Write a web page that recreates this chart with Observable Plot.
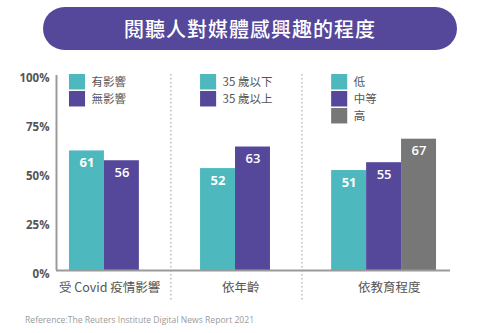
<!DOCTYPE html>
<html>
<head>
<meta charset="utf-8">
<script src="https://cdn.jsdelivr.net/npm/d3@7"></script>
<script src="https://cdn.jsdelivr.net/npm/@observablehq/plot@0.6"></script>
<style>
  html, body { margin: 0; padding: 0; background: #fff; }
  #wrap { position: relative; width: 500px; height: 333px; overflow: hidden; }
  #title {
    position: absolute; left: 43px; top: 7px; width: 414px; height: 43px;
    border-radius: 22px; background: #55489b; color: #fff;
    font-family: "Noto Sans CJK TC", sans-serif; font-size: 20px; font-weight: 500;
    display: flex; align-items: center; justify-content: center; letter-spacing: 1px;
  }
  #chart { position: absolute; left: 0; top: 57px; }
  #caption {
    position: absolute; left: 25px; top: 314px;
    font-family: "Open Sans", sans-serif; font-size: 8.6px; color: #9a9a9a;
  }
</style>
</head>
<body>
<div id="wrap">
  <div id="title">閱聽人對媒體感興趣的程度</div>
  <div id="chart"></div>
  <div id="caption">Reference:The Reuters Institute Digital News Report 2021</div>
</div>
<script>
// ---- data ----
const groupNames = ["受 Covid 疫情影響", "依年齡", "依教育程度"];
const covidLabels = ["有影響", "無影響"];
const covidValues = [61, 56];
const ageLabels = ["35 歲以下", "35 歲以上"];
const ageValues = [52, 63];
const eduLabels = ["低", "中等", "高"];
const eduValues = [51, 55, 67];
const yTicks = [0, 25, 50, 75, 100];

// ---- styles ----
const palette = ["#4db8bd", "#55489b", "#777777"];
const cjk = "'Noto Sans CJK TC', sans-serif";
const num = "'Open Sans', sans-serif";

// ---- layout (in bar-width units) ----
const GAP = 1.75;
const groupsData = [
  {name: groupNames[0], labels: covidLabels, values: covidValues},
  {name: groupNames[1], labels: ageLabels, values: ageValues},
  {name: groupNames[2], labels: eduLabels, values: eduValues}
];
const bars = [], legend = [], groupLbl = [], dividers = [];
let start = 0;
groupsData.forEach((g, gi) => {
  g.labels.forEach((lab, j) => {
    bars.push({x1: start + j, x2: start + j + 1, value: g.values[j], color: palette[j], bold: j === 0});
    legend.push({x: start, row: j, label: lab, color: palette[j]});
  });
  const end = start + g.labels.length;
  groupLbl.push({x: (start + end) / 2 + 0.15, name: g.name});
  if (gi < groupsData.length - 1) dividers.push(end + 0.9);
  start = end + GAP;
});
const xMin = -0.371, xMax = start - GAP + 0.4;
const ROW = 8.67, SW = 7.9, SWW = 0.46;

const plot = Plot.plot({
  width: 500,
  height: 253,
  marginLeft: 56,
  marginRight: 50,
  marginTop: 17,
  marginBottom: 40,
  x: {domain: [xMin, xMax], axis: null},
  y: {domain: [0, 100], axis: null},
  style: {background: "transparent", overflow: "visible"},
  marks: [
    Plot.rectY(bars, {x1: "x1", x2: "x2", y1: 0, y2: "value", fill: "color", insetLeft: 0, insetRight: 0}),
    Plot.text(bars.filter(d => d.bold), {x: d => (d.x1 + d.x2) / 2, y: "value", text: d => String(d.value), dy: 12, fill: "white", fontSize: 13, fontWeight: 700, fontFamily: num}),
    Plot.text(bars.filter(d => !d.bold), {x: d => (d.x1 + d.x2) / 2, y: "value", text: d => String(d.value), dy: 12, fill: "white", fontSize: 13, fontWeight: 600, fontFamily: num}),
    Plot.ruleX(dividers, {y1: 100, y2: -16.3, stroke: "#bbbbbb", strokeWidth: 1.5, strokeDasharray: "1.5,2.5"}),
    Plot.ruleY([0], {x1: xMin, x2: xMax, stroke: "#9a9a9a", strokeWidth: 2}),
    Plot.ruleX([xMin], {y1: 0, y2: 99.5, stroke: "#9a9a9a", strokeWidth: 2}),
    Plot.text(yTicks, {x: xMin, y: d => d, text: d => d + "%", textAnchor: "end", dx: -7, dy: 4, fill: "#555", fontSize: 11.5, fontWeight: 700, fontFamily: num}),
    Plot.rect(legend, {x1: "x", x2: d => d.x + SWW, y1: d => 100 - d.row * ROW, y2: d => 100 - d.row * ROW - SW, fill: "color"}),
    Plot.text(legend, {x: d => d.x + 0.63, y: d => 100 - d.row * ROW - SW / 2, text: "label", textAnchor: "start", fill: "#555", fontSize: 11.5, fontFamily: cjk}),
    Plot.text(groupLbl, {x: "x", y: 0, text: "name", dy: 17, fill: "#555", fontSize: 12.5, fontFamily: cjk})
  ]
});
document.getElementById("chart").appendChild(plot);
</script>
</body>
</html>
